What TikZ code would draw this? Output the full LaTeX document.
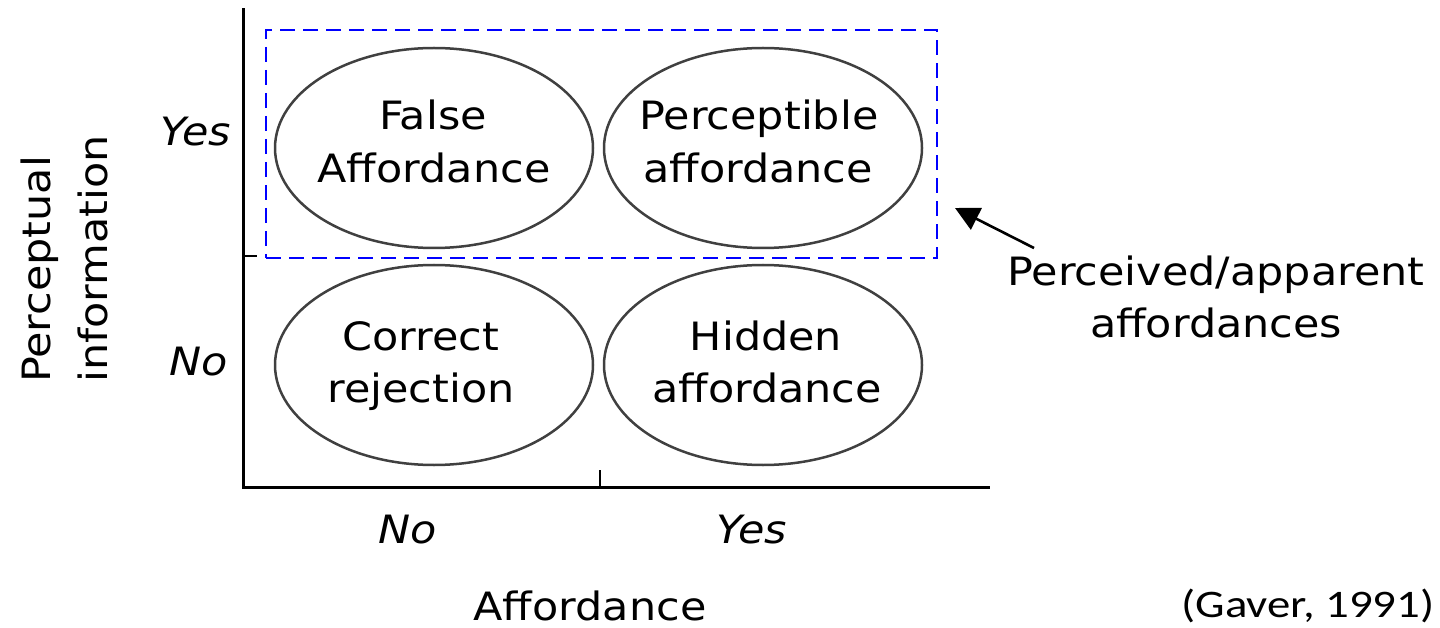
\documentclass[tikz,border=0pt]{standalone}
\usepackage{fontspec}
\setmainfont{DejaVu Sans}[FakeStretch=1.1]
\newfontfamily\calfont{Carlito}[FakeStretch=1.2]
\usetikzlibrary{shapes.geometric,arrows.meta}
\begin{document}
\begin{tikzpicture}[x=1pt,y=-1pt,
  cell/.style={draw=black!75, line width=2.5pt, ellipse, minimum width=318pt, minimum height=200pt, inner sep=0pt},
  txt/.style={font=\fontsize{39}{52}\selectfont, inner sep=0pt, anchor=base},
  lab/.style={font=\fontsize{39}{52}\selectfont\itshape, inner sep=0pt, anchor=base},
  axis/.style={line width=3pt, line cap=rect}]
\useasboundingbox (0,0) rectangle (1440,628);
% axes
\coordinate (o) at (243,487);
\coordinate (ytop) at (243,10);
\coordinate (xend) at (988,487);
\draw[axis] (ytop) -- (o) -- (xend);
\coordinate (yt1) at (243,256); \coordinate (yt2) at (257,256);
\draw[line width=2.5pt] (yt1) -- (yt2);
\coordinate (xt1) at (600,487); \coordinate (xt2) at (600,470);
\draw[line width=2.5pt] (xt1) -- (xt2);
% dashed box
\node[draw=blue, line width=2.8pt, dash pattern=on 15pt off 8pt, minimum width=671pt, minimum height=228pt, inner sep=0pt] (box) at (601.5,144) {};
% ellipses
\node[cell] (fa) at (434,148) {};
\node[cell] (pa) at (763,148) {};
\node[cell] (cr) at (434,365) {};
\node[cell] (ha) at (763,365) {};
% ellipse texts
\node[txt] (fa1) at (433,130) {False};
\node[txt] (fa2) at (434,183) {Affordance};
\node[txt] (pa1) at (759,130) {Perceptible};
\node[txt] (pa2) at (758,183) {affordance};
\node[txt] (cr1) at (421,350) {Correct};
\node[txt] (cr2) at (421,402) {rejection};
\node[txt] (ha1) at (766,350) {Hidden};
\node[txt] (ha2) at (767,402) {affordance};
% axis labels
\node[lab] (yyes) at (196,146) {Yes};
\node[lab] (yno) at (199,375) {No};
\node[lab] (xno) at (408,543) {No};
\node[lab] (xyes) at (752,543) {Yes};
\node[txt] (xlab) at (590,620) {Affordance};
\node[txt, anchor=base west, rotate=90] (ylab1) at (50,383) {Perceptual};
\node[txt, anchor=base west, rotate=90] (ylab2) at (107,383) {information};
% annotation
\node[txt] (ann1) at (1216,286) {Perceived/apparent};
\node[txt] (ann2) at (1216,337) {affordances};
\coordinate (as) at (1034,248);
\coordinate (ae) at (955,208);
\draw[line width=2.6pt, -{Triangle[length=24pt,width=24pt]}] (as) -- (ae);
\node[font=\calfont\fontsize{39}{44}\selectfont, inner sep=0pt, anchor=base] (cite) at (1308,617) {(Gaver, 1991)};
\end{tikzpicture}
\end{document}
